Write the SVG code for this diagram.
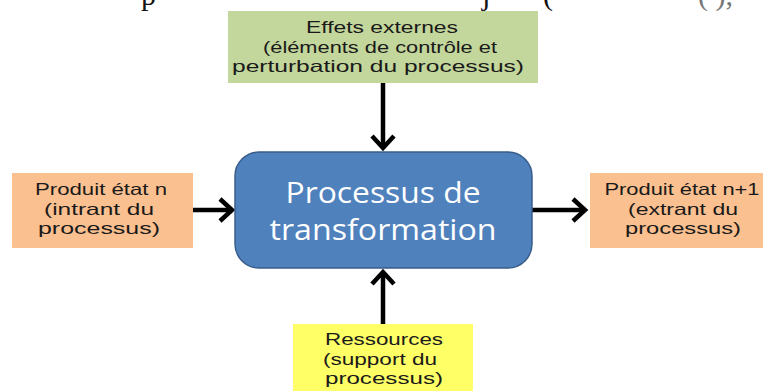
<svg xmlns="http://www.w3.org/2000/svg" width="766" height="391" viewBox="0 0 766 391">
  <defs>
    <style>
      .box-text { font-family: "Liberation Sans", Arial, sans-serif; font-size: 16.5px; fill: #1a1a1a; text-anchor: middle; }
      .main-text { font-family: "Open Sans", "Noto Sans", sans-serif; font-size: 30px; fill: #ffffff; text-anchor: middle; }
      .frag { font-family: "Liberation Serif", "Times New Roman", serif; font-size: 30px; fill: #111111; }
      .frag-grey { fill: #777777; }
      .arrow { stroke: #000000; stroke-width: 4.5; fill: none; marker-end: url(#chevron); }
    </style>
    <marker id="chevron" markerUnits="userSpaceOnUse" viewBox="-16 -14 20 28" markerWidth="20" markerHeight="28" refX="0" refY="0" orient="auto" overflow="visible">
      <path d="M-12,-11 L0,0 L-12,11" fill="none" stroke="#000000" stroke-width="4.5" stroke-linejoin="miter"/>
    </marker>
  </defs>
  <rect width="766" height="391" fill="#ffffff"/>

  <g id="page-fragment">
    <text class="frag" x="141" y="5">p</text>
    <text class="frag" x="482" y="5">j</text>
    <text class="frag" x="543" y="5">(</text>
    <text class="frag frag-grey" x="698" y="5">(  ),</text>
  </g>

  <g id="connectors">
    <line class="arrow" x1="383" y1="83" x2="383" y2="148"/>
    <line class="arrow" x1="193" y1="210" x2="232" y2="210"/>
    <line class="arrow" x1="532" y1="210" x2="585" y2="210"/>
    <line class="arrow" x1="383" y1="324" x2="383" y2="272"/>
  </g>

  <g id="node-effets">
    <rect x="228" y="11" width="310" height="72" fill="#C3D69B"/>
    <text class="box-text" x="382" y="33" textLength="152" lengthAdjust="spacingAndGlyphs">Effets externes</text>
    <text class="box-text" x="380" y="53" textLength="234" lengthAdjust="spacingAndGlyphs">(éléments de contrôle et</text>
    <text class="box-text" x="378" y="72" textLength="292" lengthAdjust="spacingAndGlyphs">perturbation du processus)</text>
  </g>

  <g id="node-intrant">
    <rect x="12" y="173" width="181" height="75" fill="#FAC090"/>
    <text class="box-text" x="101" y="195" textLength="132" lengthAdjust="spacingAndGlyphs">Produit état n</text>
    <text class="box-text" x="99" y="215" textLength="110" lengthAdjust="spacingAndGlyphs">(intrant du</text>
    <text class="box-text" x="99" y="234" textLength="122" lengthAdjust="spacingAndGlyphs">processus)</text>
  </g>

  <g id="node-processus">
    <rect x="235" y="152" width="297" height="116" rx="24" ry="24" fill="#4F81BD" stroke="#385D8A" stroke-width="1.5"/>
    <text class="main-text" x="383" y="203" textLength="195" lengthAdjust="spacingAndGlyphs">Processus de</text>
    <text class="main-text" x="383" y="240" textLength="227" lengthAdjust="spacingAndGlyphs">transformation</text>
  </g>

  <g id="node-extrant">
    <rect x="590" y="173" width="173" height="75" fill="#FAC090"/>
    <text class="box-text" x="682" y="195" textLength="155" lengthAdjust="spacingAndGlyphs">Produit état n+1</text>
    <text class="box-text" x="683" y="215" textLength="110" lengthAdjust="spacingAndGlyphs">(extrant du</text>
    <text class="box-text" x="683" y="234" textLength="116" lengthAdjust="spacingAndGlyphs">processus)</text>
  </g>

  <g id="node-ressources">
    <rect x="293" y="324" width="180" height="67" fill="#FFFF66"/>
    <text class="box-text" x="384" y="345" textLength="118" lengthAdjust="spacingAndGlyphs">Ressources</text>
    <text class="box-text" x="380" y="365" textLength="114" lengthAdjust="spacingAndGlyphs">(support du</text>
    <text class="box-text" x="384" y="384" textLength="118" lengthAdjust="spacingAndGlyphs">processus)</text>
  </g>
</svg>
